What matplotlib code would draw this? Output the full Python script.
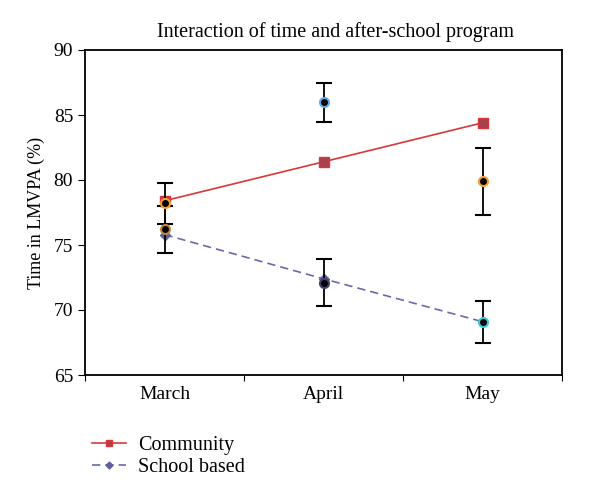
import matplotlib

matplotlib.use("Agg")
import matplotlib.pyplot as plt
import numpy as np

plt.rcParams["font.family"] = ["Liberation Serif", "DejaVu Serif"]

months = ["March", "April", "May"]
community = [78.4, 81.4, 84.4]
school_based = [75.8, 72.4, 69.1]

# points with error bars (month index, mean, error, edge colour)
err_month = [0, 0, 1, 1, 2, 2]
err_mean = [78.2, 76.2, 86.0, 72.1, 79.9, 69.1]
err_size = [1.55, 1.8, 1.5, 1.8, 2.6, 1.6]
err_edge = ["#f0a030", "#c08840", "#60a8e8", "#404068", "#f0a030", "#40c8d8"]

fig = plt.figure(figsize=(6, 5), dpi=100)
ax = fig.add_axes([0.1417, 0.25, 0.795, 0.65])

x = np.arange(len(months)) + 0.5
ax.plot(x, community, color="#d83838", lw=1.2, marker="s", ms=7,
        mfc="#a84050", mec="#d83838", mew=1, label="Community", zorder=2)
ax.plot(x, school_based, color="#6a6aaa", lw=1.2, ls=(0, (5, 3)), marker="D",
        ms=5, mfc="#6060a0", mec="#6060a0", label="School based", zorder=2)

for i in range(len(err_mean)):
    ax.errorbar(x[err_month[i]], err_mean[i], yerr=err_size[i], fmt="o",
                color="black", ecolor="black", elinewidth=1.3, capsize=6,
                capthick=1.3, ms=6.5, mfc="black", mec=err_edge[i], mew=1.5,
                zorder=3)

ax.set_xlim(0, 3)
ax.set_ylim(65, 90)
ax.set_xticks([0, 1, 2, 3])
ax.set_xticklabels([])
ax.set_xticks(x, minor=True)
ax.set_xticklabels(months, minor=True, fontsize=14)
ax.tick_params(axis="x", which="minor", length=0, pad=8)
ax.tick_params(axis="x", which="major", direction="out", length=4)
ax.set_yticks([65, 70, 75, 80, 85, 90])
ax.tick_params(axis="y", direction="out", length=5, labelsize=14)
for s in ax.spines.values():
    s.set_linewidth(1.3)
ax.set_ylabel("Time in LMVPA (%)", fontsize=13, labelpad=6)
ax.set_title("Interaction of time and after-school program", fontsize=14.5,
             pad=9, x=0.526)

fig.legend(loc="upper left", bbox_to_anchor=(0.14, 0.145), frameon=False,
           fontsize=14.5, handlelength=1.7, handletextpad=0.6,
           labelspacing=0.15, borderaxespad=0, markerscale=0.7)

fig.savefig("out.png")
